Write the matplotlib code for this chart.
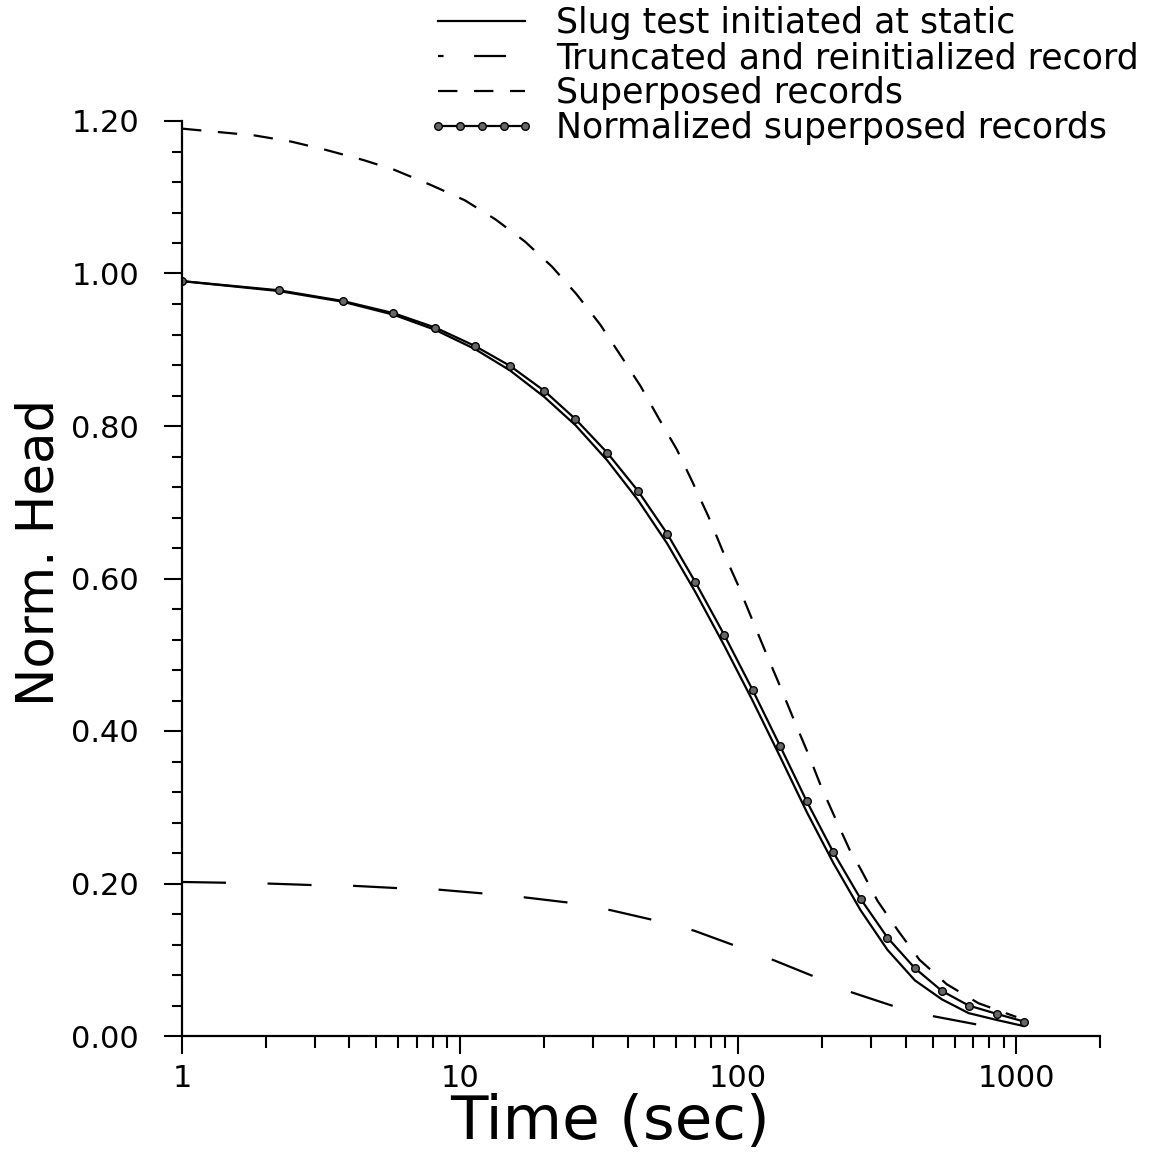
import matplotlib
matplotlib.use("Agg")
import matplotlib.pyplot as plt
from matplotlib.lines import Line2D
from matplotlib.ticker import FixedLocator, FuncFormatter, MultipleLocator, LogLocator, NullFormatter

plt.rcParams["font.family"] = ["DejaVu Sans"]
plt.rcParams["lines.scale_dashes"] = False

# normalized superposed records and slug test share the same sample times
t_samples = [1.0, 2.23, 3.78, 5.76, 8.15, 11.3, 15.1, 20.1, 26.0, 33.8, 43.6, 55.5,
             70.2, 89.1, 112.6, 141.6, 176.3, 219.8, 275.4, 344.2, 431.7, 540.5,
             674.0, 851.0, 1065.0]
head_normalized = [0.990, 0.978, 0.964, 0.948, 0.929, 0.905, 0.879, 0.846, 0.809,
                   0.765, 0.715, 0.659, 0.595, 0.526, 0.454, 0.380, 0.308, 0.241,
                   0.180, 0.129, 0.089, 0.059, 0.040, 0.029, 0.019]
head_static = [0.990, 0.977, 0.963, 0.946, 0.926, 0.901, 0.873, 0.838, 0.801,
               0.755, 0.703, 0.646, 0.582, 0.512, 0.440, 0.366, 0.294, 0.227,
               0.165, 0.113, 0.073, 0.048, 0.030, 0.021, 0.013]

t_superposed = [1.0, 1.83, 2.47, 3.3, 4.47, 5.8, 7.86, 10.4, 13.4, 17.1, 21.4, 26.2,
                31.9, 37.7, 44.6, 51.8, 60.2, 68.4, 78.0, 88.0, 99.7, 112.3, 126.0,
                141.7, 158.9, 178.6, 198.8, 225.0, 252.5, 275.6, 317.2, 375.9, 448.5,
                561.7, 731.0, 1000.0]
head_superposed = [1.190, 1.181, 1.173, 1.162, 1.149, 1.136, 1.116, 1.096, 1.071,
                   1.042, 1.009, 0.973, 0.933, 0.893, 0.852, 0.810, 0.769, 0.727,
                   0.682, 0.636, 0.592, 0.546, 0.502, 0.458, 0.414, 0.370, 0.327,
                   0.283, 0.243, 0.219, 0.177, 0.138, 0.100, 0.068, 0.043, 0.025]

t_truncated = [1.0, 1.44, 2.01, 2.92, 4.11, 5.92, 8.35, 12.07, 16.9, 24.5, 34.8, 49.7,
               69.6, 98.2, 135.1, 187.5, 257.2, 363.0, 502.3, 724.4]
head_truncated = [0.202, 0.201, 0.200, 0.198, 0.197, 0.194, 0.192, 0.187, 0.182,
                  0.175, 0.165, 0.152, 0.138, 0.118, 0.099, 0.078, 0.057, 0.039,
                  0.026, 0.015]

labels = ["Slug test initiated at static",
          "Truncated and reinitialized record",
          "Superposed records",
          "Normalized superposed records"]

LW = 1.6
DASH_LONG = (0, (31.7, 29.9))
DASH_MED = (0, (14.0, 11.9))

fig = plt.figure(figsize=(11.61, 11.52), dpi=100)
ax = fig.add_axes([182 / 1161, 1 - 1036 / 1152, 918 / 1161, 915 / 1152])

ax.plot(t_samples, head_static, color="black", lw=LW)
ax.plot(t_truncated, head_truncated, color="black", lw=LW, linestyle=DASH_LONG)
ax.plot(t_superposed, head_superposed, color="black", lw=LW, linestyle=DASH_MED)
ax.plot(t_samples, head_normalized, color="black", lw=LW, marker="o", ms=5.5,
        mfc="#666666", mec="black", mew=1.0)

ax.set_xscale("log")
ax.set_xlim(1, 2000)
ax.set_ylim(0, 1.2)

for side in ("top", "right"):
    ax.spines[side].set_visible(False)
for side in ("left", "bottom"):
    ax.spines[side].set_linewidth(1.6)

ax.xaxis.set_major_locator(FixedLocator([1, 10, 100, 1000]))
ax.xaxis.set_major_formatter(FuncFormatter(lambda v, p: f"{v:.0f}"))
ax.xaxis.set_minor_locator(LogLocator(base=10, subs=range(2, 10)))
ax.xaxis.set_minor_formatter(NullFormatter())
ax.yaxis.set_major_locator(MultipleLocator(0.2))
ax.yaxis.set_major_formatter(FuncFormatter(lambda v, p: f"{v:.2f}"))
ax.yaxis.set_minor_locator(MultipleLocator(0.04))

ax.tick_params(axis="both", which="both", direction="out", width=1.5, labelsize=22)
ax.tick_params(axis="x", which="major", length=13, pad=7)
ax.tick_params(axis="x", which="minor", length=8.5)
ax.tick_params(axis="y", which="major", length=13, pad=18)
ax.tick_params(axis="y", which="minor", length=7)

ax.set_xlabel("Time (sec)", fontsize=44)
ax.xaxis.set_label_coords(0.466, -0.062)
ax.set_ylabel("Norm. Head", fontsize=37)
ax.yaxis.set_label_coords(-0.128, 0.529)

handles = [
    Line2D([], [], color="black", lw=LW),
    Line2D([], [], color="black", lw=LW, linestyle=(0, (4, 22, 23, 100))),
    Line2D([], [], color="black", lw=LW, linestyle=DASH_MED),
    Line2D([], [], color="black", lw=LW, marker="o", ms=5.5, mfc="#666666",
           mec="black", mew=1.0),
]
fig.legend(handles, labels, loc="upper left", bbox_to_anchor=(428 / 1161, 1 - 6 / 1152),
           frameon=False, fontsize=25, handlelength=3.1, handletextpad=0.6,
           labelspacing=0.03, borderpad=0.0, borderaxespad=0.0, numpoints=5)

fig.savefig("out.png", dpi=100)
